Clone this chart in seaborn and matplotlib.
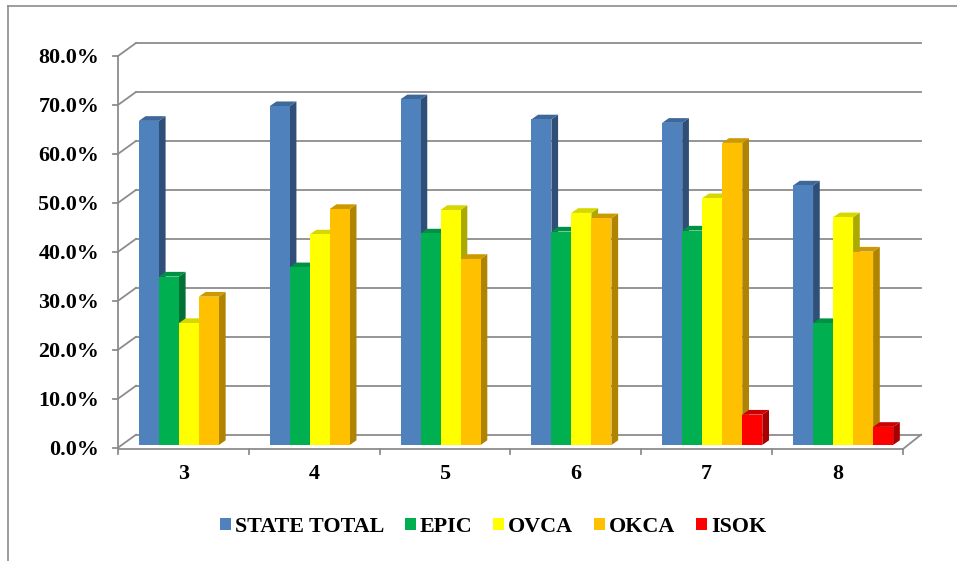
import numpy as np
import pandas as pd
import matplotlib
matplotlib.use("Agg")
import matplotlib.pyplot as plt
import matplotlib.transforms as mtransforms
from matplotlib.patches import Polygon, Patch
from matplotlib.lines import Line2D
import seaborn as sns

# ---------------- data ----------------
grades = ["3", "4", "5", "6", "7", "8"]
series = ["STATE TOTAL", "EPIC", "OVCA", "OKCA", "ISOK"]
state_total = [66.2, 69.2, 70.6, 66.5, 65.8, 53.0]
epic = [34.4, 36.3, 43.2, 43.6, 43.8, 24.9]
ovca = [24.9, 43.0, 48.0, 47.4, 50.4, 46.5]
okca = [30.3, 48.2, 38.0, 46.3, 61.7, 39.5]
isok = [np.nan, np.nan, np.nan, np.nan, 6.2, 3.7]
y_ticks = [0, 10, 20, 30, 40, 50, 60, 70, 80]

front_colors = ["#4F81BD", "#00B050", "#FFFF00", "#FFC000", "#FF0000"]
top_colors = ["#3D6899", "#009244", "#D6D600", "#CC9900", "#CC0000"]
side_colors = ["#2F4F78", "#007236", "#AAAA00", "#B08400", "#A80000"]

rows = []
for s, vals in zip(series, [state_total, epic, ovca, okca, isok]):
    for g, v in zip(grades, vals):
        rows.append({"Grade": g, "Series": s, "Value": v})
df = pd.DataFrame(rows)

# ---------------- figure ----------------
W, H, DPI = 957, 561, 100
fig = plt.figure(figsize=(W / DPI, H / DPI), dpi=DPI)
fig.patch.set_facecolor("white")
plt.rcParams["font.family"] = ["Liberation Serif", "DejaVu Serif"]
FS = 15.8

x_left, x_right, y_top, y_bot = 118, 903, 56, 447.7
ax = fig.add_axes([x_left / W, (H - y_bot) / H, (x_right - x_left) / W, (y_bot - y_top) / H])
ax.set_facecolor("none")

sns.barplot(data=df, x="Grade", y="Value", hue="Series", hue_order=series,
            order=grades, palette=front_colors, saturation=1, width=0.765,
            dodge=True, legend=False, ax=ax, linewidth=0, errorbar=None)

ax.set_xlim(-0.5, len(grades) - 0.5)
ax.set_ylim(0, 80)

GRID = "#8C8C8C"
LW = 1.3
# depth offsets (pixels)
wall_dx, wall_dy = 18, 13
bar_dx, bar_dy = 5.5, 2.7
depth_dx, depth_dy = 6.7, 4.7

fig.canvas.draw()
T = ax.transData
ident = mtransforms.IdentityTransform()

# ---------------- walls / grid ----------------
for yv in y_ticks:
    p0 = T.transform((-0.5, yv))
    p1 = T.transform((len(grades) - 0.5, yv))
    ax.add_line(Line2D([p0[0] + wall_dx, p1[0] + wall_dx], [p0[1] + wall_dy, p1[1] + wall_dy],
                       transform=ident, color=GRID, lw=LW, zorder=0.5, clip_on=False))
    ax.add_line(Line2D([p0[0], p0[0] + wall_dx], [p0[1], p0[1] + wall_dy],
                       transform=ident, color=GRID, lw=LW, zorder=0.5, clip_on=False))
    ax.add_line(Line2D([p0[0] - 5.5, p0[0]], [p0[1], p0[1]],
                       transform=ident, color=GRID, lw=LW, zorder=0.5, clip_on=False))

pa = T.transform((-0.5, 0)); pb = T.transform((-0.5, 80))
ax.add_line(Line2D([pa[0], pb[0]], [pa[1], pb[1]], transform=ident, color=GRID, lw=LW,
                   zorder=0.6, clip_on=False))
pr = T.transform((len(grades) - 0.5, 0))
ax.add_line(Line2D([pa[0], pr[0]], [pa[1] - 1.3, pr[1] - 1.3], transform=ident, color=GRID,
                   lw=LW, zorder=0.6, clip_on=False))
ax.add_line(Line2D([pr[0], pr[0] + wall_dx], [pr[1] - 1.3, pr[1] + wall_dy], transform=ident,
                   color=GRID, lw=LW, zorder=0.6, clip_on=False))
for k in range(len(grades) + 1):
    pk = T.transform((k - 0.5, 0))
    ax.add_line(Line2D([pk[0], pk[0]], [pk[1] - 1.3, pk[1] - 6.5], transform=ident,
                       color=GRID, lw=LW, zorder=0.6, clip_on=False))

# ---------------- 3D bars ----------------
bars = [p for p in ax.patches if np.isfinite(p.get_height()) and p.get_height() > 0]
color_index = {matplotlib.colors.to_hex(c).lower(): i for i, c in enumerate(front_colors)}
bars.sort(key=lambda p: p.get_x())
for n, p in enumerate(bars):
    ci = color_index[matplotlib.colors.to_hex(p.get_facecolor()).lower()]
    x0, h, w = p.get_x(), p.get_height(), p.get_width()
    tl = T.transform((x0, h)) + [bar_dx, bar_dy]
    tr = T.transform((x0 + w, h)) + [bar_dx, bar_dy]
    br = T.transform((x0 + w, 0)) + [bar_dx, bar_dy]
    d = np.array([depth_dx, depth_dy])
    z = 2 + n * 0.01
    side = Polygon([br, tr, tr + d, br + d], closed=True, transform=ident,
                   facecolor=side_colors[ci], edgecolor="none", zorder=z, clip_on=False)
    top = Polygon([tl, tr, tr + d, tl + d], closed=True, transform=ident,
                  facecolor=top_colors[ci], edgecolor="none", zorder=z + 0.003, clip_on=False)
    ax.add_patch(side)
    ax.add_patch(top)
    p.set_transform(T + mtransforms.ScaledTranslation(bar_dx / DPI, bar_dy / DPI, fig.dpi_scale_trans))
    p.set_zorder(z + 0.006)
    p.set_clip_on(False)

# ---------------- axes styling ----------------
for s in ax.spines.values():
    s.set_visible(False)
ax.set_yticks(y_ticks)
ax.set_yticklabels([f"{v:.1f}%" for v in y_ticks])
ax.tick_params(axis="y", length=0, pad=13.5, labelsize=FS)
ax.set_xticks(range(len(grades)))
ax.set_xticklabels(grades)
ax.tick_params(axis="x", length=0, pad=12, labelsize=FS)
for lab in ax.get_xticklabels() + ax.get_yticklabels():
    lab.set_fontweight("bold")
    lab.set_family(["Liberation Serif", "DejaVu Serif"])
ax.set_xlabel("")
ax.set_ylabel("")
ax.grid(False)

# ---------------- legend ----------------
handles = [Patch(facecolor=c, edgecolor="none") for c in front_colors]
leg = fig.legend(handles, series, loc="center", bbox_to_anchor=(0.515, (H - 527) / H),
                 ncol=5, frameon=False, handlelength=0.5, handleheight=0.5,
                 handletextpad=0.18, columnspacing=0.95,
                 prop={"family": ["Liberation Serif", "DejaVu Serif"], "weight": "bold", "size": FS})

# ---------------- outer chart frame ----------------
fig.add_artist(Line2D([8 / W, 8 / W], [0, (H - 6) / H], transform=fig.transFigure,
                      color="#8C8C8C", lw=1.2))
fig.add_artist(Line2D([8 / W, 1], [(H - 6) / H, (H - 6) / H], transform=fig.transFigure,
                      color="#8C8C8C", lw=1.2))

fig.savefig("out.png", dpi=DPI)
